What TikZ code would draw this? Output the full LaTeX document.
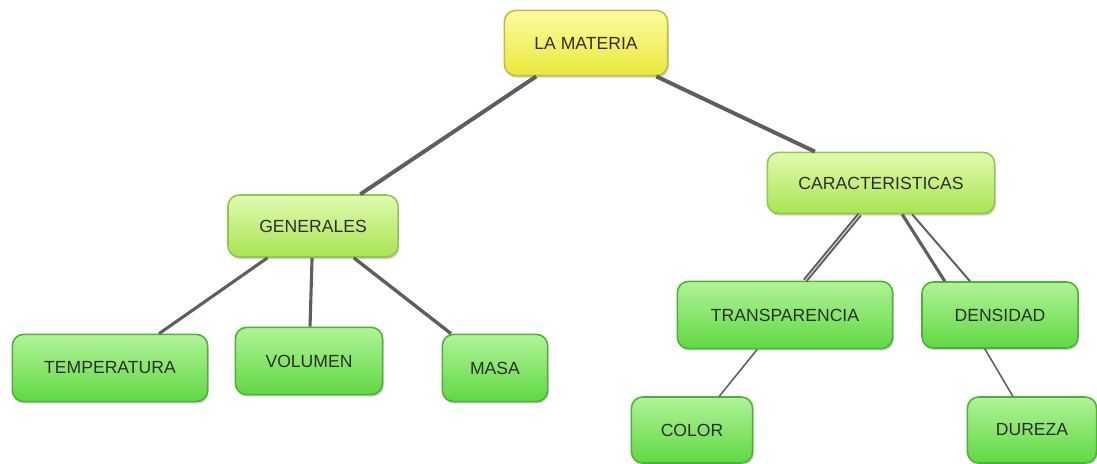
\documentclass[tikz,border=0pt]{standalone}
\usepackage{fontspec}
\setmainfont{Liberation Sans}
\usetikzlibrary{shadows}
\definecolor{linkgray}{HTML}{5E5E5E}
\definecolor{textgray}{HTML}{2E2E2E}
\tikzset{
  box/.style={rectangle, rounded corners=8pt, line width=1.1pt, text=textgray,
    font=\fontsize{12.5}{15}\selectfont,
    drop shadow={shadow xshift=0.8pt, shadow yshift=-1.5pt, opacity=0.35}},
  rootbox/.style={box, draw={rgb,255:red,190;green,190;blue,70},
    top color={rgb,255:red,252;green,252;blue,160}, bottom color={rgb,255:red,232;green,232;blue,60}},
  midbox/.style={box, draw={rgb,255:red,140;green,200;blue,74},
    top color={rgb,255:red,226;green,250;blue,176}, bottom color={rgb,255:red,168;green,228;blue,82}},
  leafbox/.style={box, draw={rgb,255:red,80;green,174;blue,58},
    top color={rgb,255:red,176;green,243;blue,152}, bottom color={rgb,255:red,96;green,216;blue,66}},
  link/.style={draw=linkgray, line width=1.6pt},
}

\begin{document}
\begin{tikzpicture}[x=0.025cm, y=-0.025cm]
    \useasboundingbox[fill=white] (0,0) rectangle (1097,463);
    \node[rootbox, minimum width=4.08cm, minimum height=1.63cm] (mat) at (586, 43) {LA MATERIA};
    \node[midbox, minimum width=4.25cm, minimum height=1.55cm] (gen) at (313, 226) {GENERALES};
    \node[midbox, minimum width=5.68cm, minimum height=1.53cm] (car) at (881, 183) {CARACTERISTICAS};
    \node[leafbox, minimum width=4.88cm, minimum height=1.68cm] (temp) at (110, 368) {TEMPERATURA};
    \node[leafbox, minimum width=3.68cm, minimum height=1.68cm] (vol) at (309, 361) {VOLUMEN};
    \node[leafbox, minimum width=2.63cm, minimum height=1.68cm] (masa) at (495, 368) {MASA};
    \node[leafbox, minimum width=5.38cm, minimum height=1.68cm] (trans) at (785, 315) {TRANSPARENCIA};
    \node[leafbox, minimum width=3.9cm, minimum height=1.65cm] (dens) at (1000, 315) {DENSIDAD};
    \node[leafbox, minimum width=3.03cm, minimum height=1.65cm] (color) at (692, 430) {COLOR};
    \node[leafbox, minimum width=3.23cm, minimum height=1.65cm] (dur) at (1032, 430) {DUREZA};
    \draw[link, line width=2.8pt] (mat) to (gen);
    \draw[link, line width=2.8pt] (mat) to (car);
    \draw[link, line width=2.2pt] (gen) to (temp);
    \draw[link, line width=2.2pt] (gen) to (vol);
    \draw[link, line width=2.4pt] (gen) to (masa);
    \draw[link, line width=1.4pt, double=white!80!linkgray, double distance=0.7pt]
      ([xshift=-0.53cm]car.south) to ([xshift=0.5cm]trans.north);
    \draw[link, line width=2.2pt] ([xshift=0.53cm]car.south) to ([xshift=-1.38cm]dens.north);
    \draw[link, line width=1.4pt] ([xshift=0.78cm]car.south) to ([xshift=-0.75cm]dens.north);
    \draw[link, line width=1.1pt] (trans) to (color);
    \draw[link, line width=1.1pt] ([xshift=-0.38cm]dens.south) to ([xshift=-0.48cm]dur.north);
\end{tikzpicture}
\end{document}
